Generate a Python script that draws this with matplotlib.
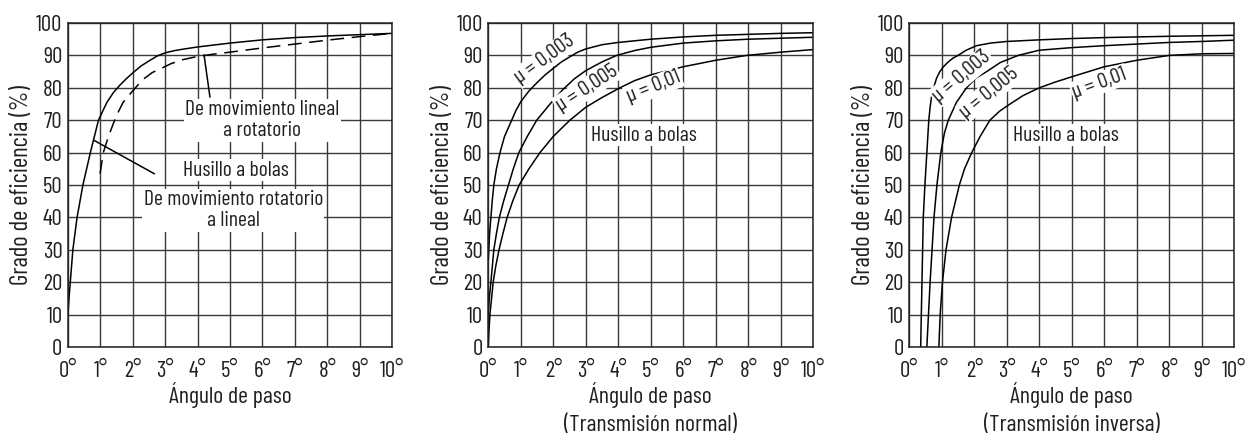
import matplotlib
matplotlib.use("Agg")
import matplotlib.pyplot as plt

plt.rcParams['font.family'] = ['Barlow Condensed', 'Roboto Condensed', 'DejaVu Sans']

# ---------------- data ----------------
x_ticks = list(range(0, 11))
x_tick_labels = [f"{v}°" for v in x_ticks]
y_ticks = list(range(0, 101, 10))

# Panel 1
p1_solid_x = [0, 0.03, 0.07, 0.15, 0.28, 0.46, 0.69, 0.94, 1.2, 1.4, 1.6, 1.8, 2, 2.25, 2.5, 2.75, 3, 3.3, 3.6, 4, 5, 6, 7, 8, 9, 10]
p1_solid_y = [10, 15, 20, 30, 40, 50, 60, 70, 75.5, 78.5, 80.8, 82.8, 84.6, 86.7, 88.3, 89.8, 90.8, 91.5, 92, 92.6, 93.8, 94.8, 95.5, 96, 96.4, 96.8]
p1_dash_x = [0.99, 1.09, 1.25, 1.4, 1.55, 1.7, 1.95, 2.17, 2.37, 2.6, 2.88, 3.19, 3.55, 3.96, 4.5, 5, 6, 7, 8, 9, 10]
p1_dash_y = [53.5, 60, 65, 69, 72.5, 75.5, 78.5, 81, 83, 84.7, 86, 87.5, 88.7, 89.6, 90.4, 91, 92.3, 93.5, 94.7, 95.8, 96.8]

# Panel 2 (normal)
p2_003_x = [0, 0.02, 0.04, 0.08, 0.12, 0.17, 0.25, 0.36, 0.5, 0.72, 0.85, 1, 1.25, 1.5, 1.75, 2, 2.25, 2.5, 2.75, 3, 3.5, 4, 5, 6, 7, 8, 9, 10]
p2_003_y = [27, 31, 35, 40, 45, 50, 55, 60, 65, 70, 73, 75.7, 79, 81.6, 84, 86, 88, 89.5, 91, 92, 93.3, 94, 95, 95.7, 96.2, 96.5, 96.8, 97]
p2_005_x = [0, 0.03, 0.08, 0.17, 0.25, 0.34, 0.47, 0.62, 0.77, 0.94, 1.2, 1.49, 1.9, 2.3, 2.65, 3, 3.5, 3.95, 4.5, 5, 6, 7, 8, 9, 10]
p2_005_y = [10, 15, 20, 30, 35, 40, 45, 50, 55, 60, 65, 70, 75, 79.5, 82.8, 85.3, 88, 90, 91.5, 92.5, 93.8, 94.5, 95, 95.3, 95.6]
p2_01_x = [0, 0.02, 0.05, 0.15, 0.23, 0.33, 0.45, 0.58, 0.75, 0.95, 1.25, 1.59, 2, 2.51, 3, 3.5, 4.05, 4.5, 5, 6, 7, 7.95, 9, 10]
p2_01_y = [0, 5, 10, 20, 25, 30, 35, 40, 45, 50, 55, 60, 65, 70, 74, 77, 80, 82.2, 84, 86.5, 88.5, 90, 91, 91.8]

# Panel 3 (inverse)
p3_003_x = [0.35, 0.39, 0.43, 0.48, 0.54, 0.6, 0.64, 0.68, 0.75, 0.84, 0.94, 1.05, 1.2, 1.35, 1.5, 1.75, 2.07, 2.5, 3, 4, 5, 6, 8, 10]
p3_003_y = [0, 20, 40, 50, 60, 70, 74, 77, 80, 83, 85, 86.5, 88, 89.2, 90, 91.6, 93, 93.8, 94.3, 94.8, 95.2, 95.5, 95.9, 96.2]
p3_005_x = [0.54, 0.64, 0.76, 0.85, 0.97, 1.08, 1.2, 1.45, 1.76, 2.05, 2.38, 2.8, 3.35, 4, 5, 6, 7, 8, 9, 10]
p3_005_y = [0, 20, 40, 50, 60, 66, 70, 75.5, 80, 83, 85, 87.8, 90, 91.6, 92.4, 93, 93.5, 94, 94.3, 94.7]
p3_01_x = [0.91, 0.95, 1.02, 1.13, 1.3, 1.54, 1.7, 1.92, 2.18, 2.48, 2.78, 3.1, 3.5, 4, 4.5, 5, 6, 7, 8, 9, 10]
p3_01_y = [0, 10, 20, 30, 40, 50, 55, 60, 65, 70, 72.8, 75, 77.6, 80, 81.8, 83.4, 86.5, 88.5, 90, 90.5, 90.6]

LW = 1.1
TC = '#231f20'
box = dict(facecolor='white', edgecolor='none', pad=1.0)

fig = plt.figure(figsize=(12.48, 4.34), dpi=100)
W, H = 1248, 434
renderer = fig.canvas.get_renderer()


def size_for(s, target_px):
    t = fig.text(0, 0, s, fontsize=10)
    w = t.get_window_extent(renderer=renderer).width
    t.remove()
    return 10.0 * target_px / w


FS_TICK = 16.5
FS_XL = size_for('Ángulo de paso', 123)
FS_YL = size_for('Grado de eficiencia (%)', 200)
FS_ANN = size_for('Husillo a bolas', 105)

axes_px = [(68, 392), (488.3, 813.3), (909.3, 1234.3)]
top_px, bot_px = 23, 347
axs = []
for l, r in axes_px:
    ax = fig.add_axes([l / W, 1 - bot_px / H, (r - l) / W, (bot_px - top_px) / H])
    ax.set_xlim(0, 10)
    ax.set_ylim(0, 100)
    ax.set_xticks(x_ticks)
    ax.set_xticklabels(x_tick_labels)
    ax.set_yticks(y_ticks)
    ax.tick_params(length=0, labelsize=FS_TICK, colors=TC)
    ax.tick_params(axis='x', pad=10)
    ax.tick_params(axis='y', pad=4)
    ax.grid(True, color='#3a3a3a', linewidth=1.0)
    ax.set_axisbelow(True)
    for s in ax.spines.values():
        s.set_color('#222222')
        s.set_linewidth(1.1)
    ax.set_ylabel('Grado de eficiencia (%)', fontsize=FS_YL, color=TC, va='center')
    ax.yaxis.set_label_coords(-0.142, 0.5)
    axs.append(ax)

xlabels = ['Ángulo de paso', 'Ángulo de paso\n(Transmisión normal)', 'Ángulo de paso\n(Transmisión inversa)']
xlabel_y = [-0.149, -0.192, -0.192]
for ax, lab, yy in zip(axs, xlabels, xlabel_y):
    ax.set_xlabel(lab, fontsize=FS_XL, color=TC, va='center', linespacing=1.45)
    ax.xaxis.set_label_coords(0.5, yy)

# Panel 1
ax = axs[0]
ax.plot(p1_solid_x, p1_solid_y, color='black', lw=LW)
ax.plot(p1_dash_x, p1_dash_y, color='black', lw=LW, linestyle=(0, (9, 5)))
ax.plot([4.2, 4.38], [90.1, 77.2], color='black', lw=LW)
ax.plot([0.8, 2.66], [63.8, 53.5], color='black', lw=LW)
ax.text(6.0, 70.0, 'De movimiento lineal\na rotatorio', fontsize=FS_ANN, ha='center', va='center',
        linespacing=1.15, bbox=box, color=TC)
ax.text(5.18, 54.6, 'Husillo a bolas', fontsize=FS_ANN, ha='center', va='center', bbox=box, color=TC)
ax.text(5.1, 42.2, 'De movimiento rotatorio\na lineal', fontsize=FS_ANN, ha='center', va='center',
        linespacing=1.15, bbox=box, color=TC)

# Panel 2
ax = axs[1]
ax.plot(p2_003_x, p2_003_y, color='black', lw=LW)
ax.plot(p2_005_x, p2_005_y, color='black', lw=LW)
ax.plot(p2_01_x, p2_01_y, color='black', lw=LW)
ax.text(1.74, 88.8, 'µ = 0,003', fontsize=FS_ANN, rotation=36, ha='center', va='center', bbox=box, color=TC)
ax.text(3.03, 79.8, 'µ = 0,005', fontsize=FS_ANN, rotation=33, ha='center', va='center', bbox=box, color=TC)
ax.text(5.08, 80.3, 'µ = 0,01', fontsize=FS_ANN, rotation=22, ha='center', va='center', bbox=box, color=TC)
ax.text(4.79, 65.4, 'Husillo a bolas', fontsize=FS_ANN, ha='center', va='center', bbox=box, color=TC)

# Panel 3
ax = axs[2]
ax.plot(p3_003_x, p3_003_y, color='black', lw=LW)
ax.plot(p3_005_x, p3_005_y, color='black', lw=LW)
ax.plot(p3_01_x, p3_01_y, color='black', lw=LW)
ax.text(1.61, 83.4, 'µ = 0,003', fontsize=FS_ANN, rotation=40, ha='center', va='center', bbox=box, color=TC)
ax.text(2.46, 78.5, 'µ = 0,005', fontsize=FS_ANN, rotation=39, ha='center', va='center', bbox=box, color=TC)
ax.text(5.85, 81.4, 'µ = 0,01', fontsize=FS_ANN, rotation=20, ha='center', va='center', bbox=box, color=TC)
ax.text(4.82, 65.4, 'Husillo a bolas', fontsize=FS_ANN, ha='center', va='center', bbox=box, color=TC)

fig.savefig('out.png', dpi=100)
